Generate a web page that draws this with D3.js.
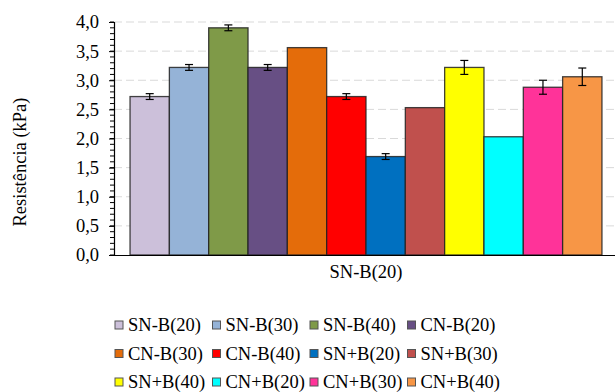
<!DOCTYPE html>
<html><head><meta charset="utf-8">
<script src="https://cdn.jsdelivr.net/npm/d3@7"></script>
<style>body{margin:0;background:#fff}svg{display:block}</style>
</head><body>
<svg id="c" width="615" height="392"></svg>
<script>
const categories = ["SN-B(20)"];
const seriesNames = ["SN-B(20)","SN-B(30)","SN-B(40)","CN-B(20)","CN-B(30)","CN-B(40)","SN+B(20)","SN+B(30)","SN+B(40)","CN+B(20)","CN+B(30)","CN+B(40)"];
const seriesValues = [2.72, 3.22, 3.90, 3.22, 3.56, 2.72, 1.69, 2.53, 3.22, 2.03, 2.88, 3.06];
const seriesErrors = [0.05, 0.05, 0.05, 0.05, 0, 0.05, 0.05, 0, 0.12, 0, 0.12, 0.15];
const seriesColors = ["#CCC0DA","#95B3D7","#7F9A48","#674F84","#E46C0A","#FF0000","#0070C0","#C0504D","#FFFF00","#00FFFF","#FF3399","#F79646"];
const yTicks = [0,0.5,1,1.5,2,2.5,3,3.5,4];
const yMinorTicks = d3.range(0, 41).map(i => i/10);
const yTitle = "Resistência (kPa)";

const FONT = '"Liberation Serif", "Times New Roman", serif';
const FS = "18.5px";
const svg = d3.select("#c");
const L = 114, R = 618, T = 22, B = 255;
const y = d3.scaleLinear().domain([0,4]).range([B,T]);
const x0 = d3.scaleBand().domain(categories).range([L,R]).paddingInner(0).paddingOuter(0.034);
const x1 = d3.scaleBand().domain(seriesNames).range([0, x0.bandwidth()]).padding(0);
const fmt = d => d.toFixed(1).replace(".", ",");

// gridlines
svg.append("g").selectAll("line").data(yTicks.filter(d => d > 0)).join("line")
  .attr("x1", L).attr("x2", 615).attr("y1", d => y(d)).attr("y2", d => y(d))
  .attr("stroke", "#d9d9d9").attr("stroke-width", 1).attr("stroke-dasharray", "8,4");

// bars
const g = svg.append("g");
categories.forEach(cat => {
  const gx = x0(cat);
  g.selectAll("rect.b").data(seriesNames).join("rect").attr("class","b")
    .attr("x", d => gx + x1(d)).attr("width", x1.bandwidth())
    .attr("y", (d,i) => y(seriesValues[i])).attr("height", (d,i) => B - y(seriesValues[i]))
    .attr("fill", (d,i) => seriesColors[i]).attr("stroke", "#222").attr("stroke-opacity", 0.85).attr("stroke-width", 1.3);
  const eb = g.selectAll("g.e").data(seriesNames.map((d,i)=>({d,i})).filter(o => seriesErrors[o.i] > 0)).join("g").attr("class","e");
  const cx = o => gx + x1(o.d) + x1.bandwidth()/2;
  eb.append("line").attr("x1", cx).attr("x2", cx)
    .attr("y1", o => y(seriesValues[o.i] + seriesErrors[o.i])).attr("y2", o => y(seriesValues[o.i] - seriesErrors[o.i]))
    .attr("stroke", "#000").attr("stroke-width", 1.2);
  [1,-1].forEach(s => eb.append("line").attr("x1", o => cx(o)-4).attr("x2", o => cx(o)+4)
    .attr("y1", o => y(seriesValues[o.i] + s*seriesErrors[o.i])).attr("y2", o => y(seriesValues[o.i] + s*seriesErrors[o.i]))
    .attr("stroke", "#000").attr("stroke-width", 1.2));
});

// y axis minor ticks
svg.append("g").selectAll("line").data(yMinorTicks).join("line")
  .attr("x1", L-4).attr("x2", L).attr("y1", d => y(d)).attr("y2", d => y(d))
  .attr("stroke", "#000").attr("stroke-width", 1);
const ya = svg.append("g").attr("transform", `translate(${L},0)`)
  .call(d3.axisLeft(y).tickValues(yTicks).tickFormat(fmt).tickSize(5).tickPadding(10));
ya.select(".domain").attr("stroke", "#000").attr("stroke-width", 1.2);
ya.selectAll("text").style("font-size", FS).style("font-family", FONT).style("fill", "#000");

// x axis
const xa = svg.append("g").attr("transform", `translate(0,${B})`)
  .call(d3.axisBottom(x0).tickSize(0).tickPadding(10).tickSizeOuter(0));
xa.select(".domain").attr("stroke", "#000").attr("stroke-width", 1.2);
xa.selectAll("text").style("font-size", FS).style("font-family", FONT).style("fill", "#000");

// y title
svg.append("text").attr("transform", "translate(26,162) rotate(-90)")
  .attr("text-anchor", "middle").style("font-size", FS).style("font-family", FONT).text(yTitle);

// legend
const lg = svg.append("g");
seriesNames.forEach((n,i) => {
  const col = i % 4, row = Math.floor(i/4);
  const lx = 115 + col*97.5, ly = 325 + row*28.5;
  lg.append("rect").attr("x", lx).attr("y", ly-4).attr("width", 8).attr("height", 8)
    .attr("fill", seriesColors[i]).attr("stroke", "#555").attr("stroke-width", 1);
  lg.append("text").attr("x", lx+13).attr("y", ly).attr("dy", "0.35em")
    .style("font-size", FS).style("font-family", FONT).text(n);
});
</script>
</body></html>
